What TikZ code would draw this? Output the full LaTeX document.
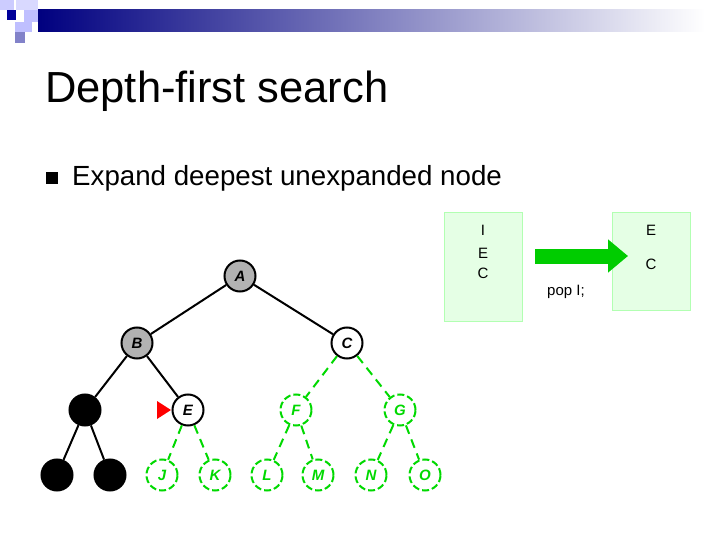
\documentclass[tikz,border=0pt]{standalone}
\usepackage{fontspec}
\setmainfont{Liberation Sans}
\usetikzlibrary{arrows.meta}
\begin{document}
\begin{tikzpicture}[x=1pt,y=-1pt,
  tn/.style={circle,draw,line width=2pt,minimum size=31pt,inner sep=0pt,font=\itshape\bfseries\fontsize{15}{15}\selectfont},
  gr/.style={tn,fill=gray!60},
  bl/.style={tn,fill=black},
  wh/.style={tn,fill=white},
  fr/.style={tn,draw=green!85!black,text=green!85!black,dashed,dash pattern=on 7pt off 3pt},
  ed/.style={line width=2pt},
  fe/.style={line width=2pt,green!85!black,dash pattern=on 9pt off 6pt},
  qbox/.style={draw=green!30,fill=green!10,minimum width=78pt,anchor=north west},
  qt/.style={font=\fontsize{15}{15}\selectfont}]
\useasboundingbox (0,0) rectangle (720,540);
\fill[white] (0,0) rectangle (720,540);
\shade[left color=blue!50!black, right color=white] (38,10) rectangle (705,32);
\fill[blue!20!white] (0,0) rectangle (14,10);
\fill[blue!15!white] (16,0) rectangle (38,10);
\fill[blue!60!black] (7,10) rectangle (16,20);
\fill[blue!25!white] (24,10) rectangle (38,22);
\fill[blue!25!white] (15,22) rectangle (32,32);
\fill[blue!40!gray!70] (15,32) rectangle (25,43);
\node[anchor=west,inner sep=0pt,font=\fontsize{43.5}{43.5}\selectfont] (title) at (45,91) {Depth-first search};
\fill (46,172) rectangle (58,184);
\node[anchor=west,inner sep=0pt,font=\fontsize{27.7}{27.7}\selectfont] (bul) at (72,178) {Expand deepest unexpanded node};
% tree
\node[gr] (A) at (240,276) {A};
\node[gr] (B) at (137,343) {B};
\node[wh] (C) at (347,343) {C};
\node[bl] (D) at (85,410) {};
\node[wh] (E) at (188,410) {E};
\node[fr] (F) at (296,410) {F};
\node[fr] (G) at (400,410) {G};
\node[bl] (H) at (57,475) {};
\node[bl] (I) at (110,475) {};
\node[fr] (J) at (162,475) {J};
\node[fr] (K) at (215,475) {K};
\node[fr] (L) at (267,475) {L};
\node[fr] (M) at (318,475) {M};
\node[fr] (N) at (371,475) {N};
\node[fr] (O) at (425,475) {O};
\draw[ed] (A)--(B); \draw[ed] (A)--(C); \draw[ed] (B)--(D); \draw[ed] (B)--(E);
\draw[ed] (D)--(H); \draw[ed] (D)--(I);
\draw[fe] (C)--(F); \draw[fe] (C)--(G); \draw[fe] (E)--(J); \draw[fe] (E)--(K);
\draw[fe] (F)--(L); \draw[fe] (F)--(M); \draw[fe] (G)--(N); \draw[fe] (G)--(O);
\fill[red] (157,401) -- (171,410) -- (157,419) -- cycle;
% queues
\node[qbox,minimum height=109pt] (q1) at (444,212) {};
\node[qt] (q1a) at (483,230) {I};
\node[qt] (q1b) at (483,253) {E};
\node[qt] (q1c) at (483,273) {C};
\node[qbox,minimum height=98pt] (q2) at (612,212) {};
\node[qt] (q2a) at (651,230) {E};
\node[qt] (q2b) at (651,264) {C};
\coordinate (ar1) at (535,256); \coordinate (ar2) at (628,256);
\draw[-{Triangle[length=20pt,width=32pt]},line width=15pt,green!80!black] (ar1)--(ar2);
\node[qt] (pop) at (566,292) {pop I;};
\end{tikzpicture}
\end{document}
